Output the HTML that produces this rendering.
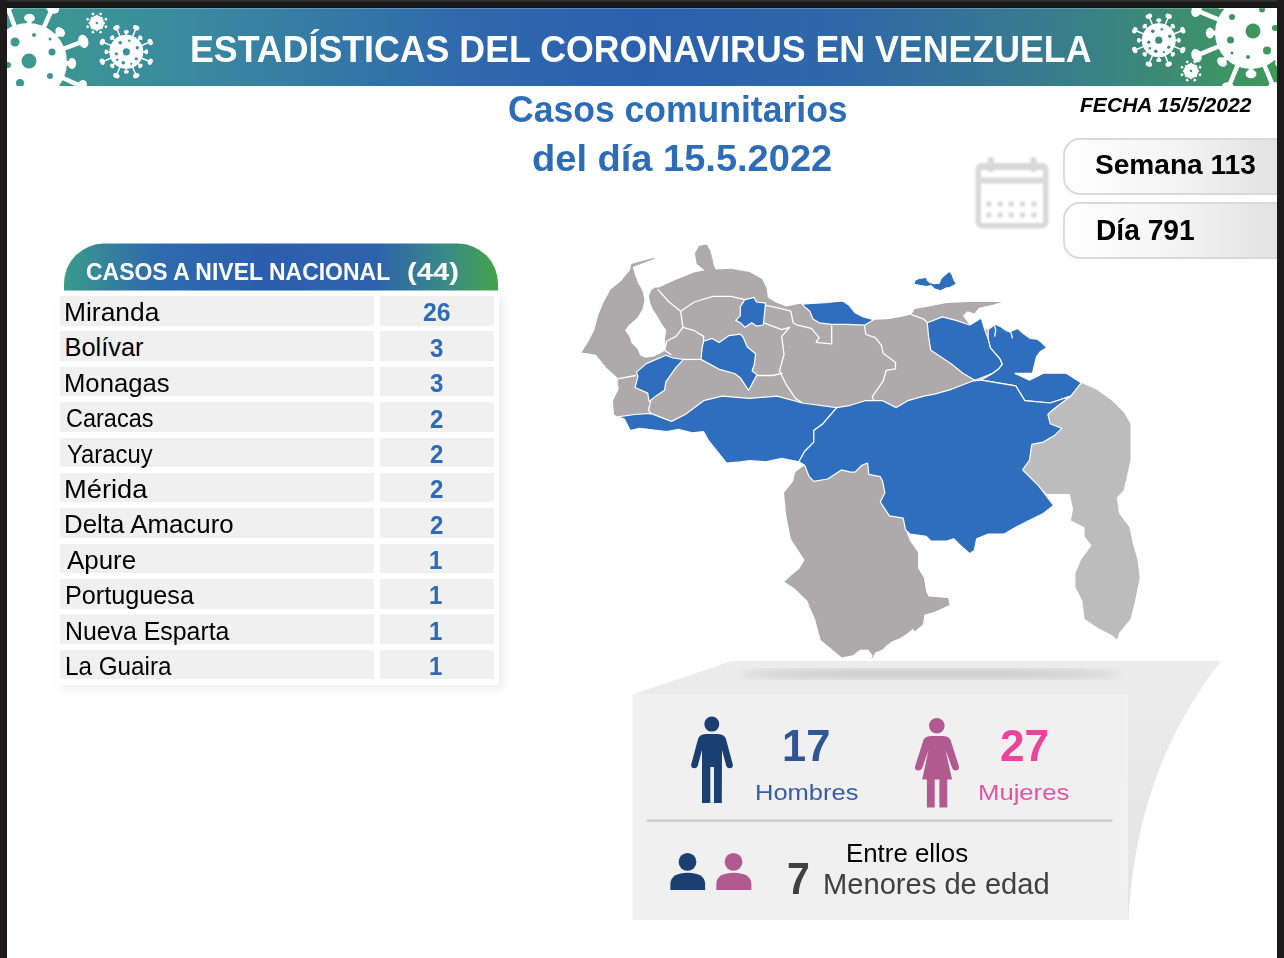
<!DOCTYPE html>
<html><head><meta charset="utf-8">
<style>
html,body{margin:0;padding:0;}
body{width:1284px;height:958px;position:relative;overflow:hidden;background:#fff;font-family:"Liberation Sans",sans-serif;}
.abs{position:absolute;}
.t{position:absolute;white-space:nowrap;line-height:1;transform-origin:0 0;}
.rw{position:absolute;left:60px;width:435px;height:29.5px;}
.rw .c1{position:absolute;left:0;top:0;width:314px;height:29.5px;background:#f0f0f0;}
.rw .c2{position:absolute;left:320px;top:0;width:114px;height:29.5px;background:#f0f0f0;}

</style></head>
<body>

<!-- banner -->
<svg class="abs" style="left:0;top:0" width="1284" height="958" viewBox="0 0 1284 958">
<defs>
<linearGradient id="bgrad" gradientUnits="userSpaceOnUse" x1="7" y1="0" x2="1277" y2="0">
<stop offset="0" stop-color="#3e9a8e"/>
<stop offset="0.14" stop-color="#3a8a9f"/>
<stop offset="0.36" stop-color="#2f69ac"/>
<stop offset="0.5" stop-color="#2b60ae"/>
<stop offset="0.66" stop-color="#2e68a8"/>
<stop offset="0.85" stop-color="#3a8088"/>
<stop offset="1" stop-color="#40995a"/>
</linearGradient>
<linearGradient id="hgrad" gradientUnits="userSpaceOnUse" x1="64" y1="0" x2="498" y2="0">
<stop offset="0" stop-color="#3b9a8a"/>
<stop offset="0.2" stop-color="#2f6cac"/>
<stop offset="0.45" stop-color="#2b5fae"/>
<stop offset="0.72" stop-color="#2e63ab"/>
<stop offset="0.88" stop-color="#3a8a86"/>
<stop offset="1" stop-color="#45a24a"/>
</linearGradient>
<clipPath id="bclip"><rect x="7" y="8" width="1270" height="78"/></clipPath>
<linearGradient id="pill" x1="0" y1="0" x2="1" y2="0">
<stop offset="0" stop-color="#ffffff"/>
<stop offset="0.5" stop-color="#f2f2f2"/>
<stop offset="1" stop-color="#dcdcdc"/>
</linearGradient>
<filter id="blur1"><feGaussianBlur stdDeviation="0.8"/></filter>
<filter id="blur4"><feGaussianBlur stdDeviation="4"/></filter>
</defs>
<g clip-path="url(#bclip)">
<rect x="7" y="8" width="1270" height="78" fill="url(#bgrad)"/>
<circle cx="28.0" cy="62.0" r="39.0" fill="#fff"/>
<line x1="28.0" y1="62.0" x2="81.7" y2="86.5" stroke="#fff" stroke-width="4.50"/>
<ellipse cx="81.7" cy="86.5" rx="4.96" ry="6.82" fill="#fff" transform="rotate(24.5 81.7 86.5)"/>
<line x1="28.0" y1="62.0" x2="72.0" y2="63.5" stroke="#fff" stroke-width="4.50"/>
<ellipse cx="72.0" cy="63.5" rx="4.16" ry="5.46" fill="#fff" transform="rotate(2.0 72.0 63.5)"/>
<line x1="28.0" y1="62.0" x2="48.7" y2="117.3" stroke="#fff" stroke-width="4.50"/>
<ellipse cx="48.7" cy="117.3" rx="4.96" ry="6.82" fill="#fff" transform="rotate(69.5 48.7 117.3)"/>
<line x1="28.0" y1="62.0" x2="58.0" y2="94.2" stroke="#fff" stroke-width="4.50"/>
<ellipse cx="58.0" cy="94.2" rx="4.16" ry="5.46" fill="#fff" transform="rotate(47.0 58.0 94.2)"/>
<line x1="28.0" y1="62.0" x2="3.5" y2="115.7" stroke="#fff" stroke-width="4.50"/>
<ellipse cx="3.5" cy="115.7" rx="4.96" ry="6.82" fill="#fff" transform="rotate(114.5 3.5 115.7)"/>
<line x1="28.0" y1="62.0" x2="26.5" y2="106.0" stroke="#fff" stroke-width="4.50"/>
<ellipse cx="26.5" cy="106.0" rx="4.16" ry="5.46" fill="#fff" transform="rotate(92.0 26.5 106.0)"/>
<line x1="28.0" y1="62.0" x2="-27.3" y2="82.7" stroke="#fff" stroke-width="4.50"/>
<ellipse cx="-27.3" cy="82.7" rx="4.96" ry="6.82" fill="#fff" transform="rotate(159.5 -27.3 82.7)"/>
<line x1="28.0" y1="62.0" x2="-4.2" y2="92.0" stroke="#fff" stroke-width="4.50"/>
<ellipse cx="-4.2" cy="92.0" rx="4.16" ry="5.46" fill="#fff" transform="rotate(137.0 -4.2 92.0)"/>
<line x1="28.0" y1="62.0" x2="-25.7" y2="37.5" stroke="#fff" stroke-width="4.50"/>
<ellipse cx="-25.7" cy="37.5" rx="4.96" ry="6.82" fill="#fff" transform="rotate(204.5 -25.7 37.5)"/>
<line x1="28.0" y1="62.0" x2="-16.0" y2="60.5" stroke="#fff" stroke-width="4.50"/>
<ellipse cx="-16.0" cy="60.5" rx="4.16" ry="5.46" fill="#fff" transform="rotate(182.0 -16.0 60.5)"/>
<line x1="28.0" y1="62.0" x2="7.3" y2="6.7" stroke="#fff" stroke-width="4.50"/>
<ellipse cx="7.3" cy="6.7" rx="4.96" ry="6.82" fill="#fff" transform="rotate(249.5 7.3 6.7)"/>
<line x1="28.0" y1="62.0" x2="-2.0" y2="29.8" stroke="#fff" stroke-width="4.50"/>
<ellipse cx="-2.0" cy="29.8" rx="4.16" ry="5.46" fill="#fff" transform="rotate(227.0 -2.0 29.8)"/>
<line x1="28.0" y1="62.0" x2="52.5" y2="8.3" stroke="#fff" stroke-width="4.50"/>
<ellipse cx="52.5" cy="8.3" rx="4.96" ry="6.82" fill="#fff" transform="rotate(294.5 52.5 8.3)"/>
<line x1="28.0" y1="62.0" x2="29.5" y2="18.0" stroke="#fff" stroke-width="4.50"/>
<ellipse cx="29.5" cy="18.0" rx="4.16" ry="5.46" fill="#fff" transform="rotate(272.0 29.5 18.0)"/>
<line x1="28.0" y1="62.0" x2="83.3" y2="41.3" stroke="#fff" stroke-width="4.50"/>
<ellipse cx="83.3" cy="41.3" rx="4.96" ry="6.82" fill="#fff" transform="rotate(339.5 83.3 41.3)"/>
<line x1="28.0" y1="62.0" x2="60.2" y2="32.0" stroke="#fff" stroke-width="4.50"/>
<ellipse cx="60.2" cy="32.0" rx="4.16" ry="5.46" fill="#fff" transform="rotate(317.0 60.2 32.0)"/>
<circle cx="29.0" cy="61.0" r="7.5" fill="url(#bgrad)"/>
<circle cx="15.0" cy="42.0" r="4.5" fill="url(#bgrad)"/>
<circle cx="34.0" cy="35.0" r="2.0" fill="url(#bgrad)"/>
<circle cx="50.0" cy="39.0" r="1.5" fill="url(#bgrad)"/>
<circle cx="52.0" cy="52.0" r="3.5" fill="url(#bgrad)"/>
<circle cx="50.0" cy="76.0" r="3.0" fill="url(#bgrad)"/>
<circle cx="20.0" cy="83.0" r="4.0" fill="url(#bgrad)"/>
<circle cx="8.0" cy="65.0" r="3.0" fill="url(#bgrad)"/>
<circle cx="126.3" cy="51.8" r="17.0" fill="#fff"/>
<line x1="126.3" y1="51.8" x2="150.3" y2="61.7" stroke="#fff" stroke-width="1.50"/>
<ellipse cx="150.3" cy="61.7" rx="2.40" ry="3.30" fill="#fff" transform="rotate(22.5 150.3 61.7)"/>
<line x1="126.3" y1="51.8" x2="146.3" y2="51.8" stroke="#fff" stroke-width="1.50"/>
<ellipse cx="146.3" cy="51.8" rx="1.92" ry="2.52" fill="#fff" transform="rotate(0.0 146.3 51.8)"/>
<line x1="126.3" y1="51.8" x2="136.2" y2="75.8" stroke="#fff" stroke-width="1.50"/>
<ellipse cx="136.2" cy="75.8" rx="2.40" ry="3.30" fill="#fff" transform="rotate(67.5 136.2 75.8)"/>
<line x1="126.3" y1="51.8" x2="140.4" y2="65.9" stroke="#fff" stroke-width="1.50"/>
<ellipse cx="140.4" cy="65.9" rx="1.92" ry="2.52" fill="#fff" transform="rotate(45.0 140.4 65.9)"/>
<line x1="126.3" y1="51.8" x2="116.4" y2="75.8" stroke="#fff" stroke-width="1.50"/>
<ellipse cx="116.4" cy="75.8" rx="2.40" ry="3.30" fill="#fff" transform="rotate(112.5 116.4 75.8)"/>
<line x1="126.3" y1="51.8" x2="126.3" y2="71.8" stroke="#fff" stroke-width="1.50"/>
<ellipse cx="126.3" cy="71.8" rx="1.92" ry="2.52" fill="#fff" transform="rotate(90.0 126.3 71.8)"/>
<line x1="126.3" y1="51.8" x2="102.3" y2="61.7" stroke="#fff" stroke-width="1.50"/>
<ellipse cx="102.3" cy="61.7" rx="2.40" ry="3.30" fill="#fff" transform="rotate(157.5 102.3 61.7)"/>
<line x1="126.3" y1="51.8" x2="112.2" y2="65.9" stroke="#fff" stroke-width="1.50"/>
<ellipse cx="112.2" cy="65.9" rx="1.92" ry="2.52" fill="#fff" transform="rotate(135.0 112.2 65.9)"/>
<line x1="126.3" y1="51.8" x2="102.3" y2="41.9" stroke="#fff" stroke-width="1.50"/>
<ellipse cx="102.3" cy="41.9" rx="2.40" ry="3.30" fill="#fff" transform="rotate(202.5 102.3 41.9)"/>
<line x1="126.3" y1="51.8" x2="106.3" y2="51.8" stroke="#fff" stroke-width="1.50"/>
<ellipse cx="106.3" cy="51.8" rx="1.92" ry="2.52" fill="#fff" transform="rotate(180.0 106.3 51.8)"/>
<line x1="126.3" y1="51.8" x2="116.4" y2="27.8" stroke="#fff" stroke-width="1.50"/>
<ellipse cx="116.4" cy="27.8" rx="2.40" ry="3.30" fill="#fff" transform="rotate(247.5 116.4 27.8)"/>
<line x1="126.3" y1="51.8" x2="112.2" y2="37.7" stroke="#fff" stroke-width="1.50"/>
<ellipse cx="112.2" cy="37.7" rx="1.92" ry="2.52" fill="#fff" transform="rotate(225.0 112.2 37.7)"/>
<line x1="126.3" y1="51.8" x2="136.2" y2="27.8" stroke="#fff" stroke-width="1.50"/>
<ellipse cx="136.2" cy="27.8" rx="2.40" ry="3.30" fill="#fff" transform="rotate(292.5 136.2 27.8)"/>
<line x1="126.3" y1="51.8" x2="126.3" y2="31.8" stroke="#fff" stroke-width="1.50"/>
<ellipse cx="126.3" cy="31.8" rx="1.92" ry="2.52" fill="#fff" transform="rotate(270.0 126.3 31.8)"/>
<line x1="126.3" y1="51.8" x2="150.3" y2="41.9" stroke="#fff" stroke-width="1.50"/>
<ellipse cx="150.3" cy="41.9" rx="2.40" ry="3.30" fill="#fff" transform="rotate(337.5 150.3 41.9)"/>
<line x1="126.3" y1="51.8" x2="140.4" y2="37.7" stroke="#fff" stroke-width="1.50"/>
<ellipse cx="140.4" cy="37.7" rx="1.92" ry="2.52" fill="#fff" transform="rotate(315.0 140.4 37.7)"/>
<circle cx="126.3" cy="51.8" r="3.6" fill="url(#bgrad)"/>
<circle cx="120.3" cy="42.8" r="1.8" fill="url(#bgrad)"/>
<circle cx="137.3" cy="47.8" r="1.7" fill="url(#bgrad)"/>
<circle cx="136.3" cy="58.8" r="1.6" fill="url(#bgrad)"/>
<circle cx="123.3" cy="62.8" r="1.8" fill="url(#bgrad)"/>
<circle cx="116.3" cy="53.8" r="1.6" fill="url(#bgrad)"/>
<circle cx="129.3" cy="40.8" r="1.2" fill="url(#bgrad)"/>
<circle cx="117.3" cy="59.8" r="1.2" fill="url(#bgrad)"/>
<circle cx="131.3" cy="63.8" r="1.1" fill="url(#bgrad)"/>
<circle cx="96.8" cy="23.0" r="7.2" fill="#fff"/>
<line x1="96.8" y1="23.0" x2="106.0" y2="26.8" stroke="#fff" stroke-width="0.60"/>
<ellipse cx="106.0" cy="26.8" rx="1.12" ry="1.54" fill="#fff" transform="rotate(22.5 106.0 26.8)"/>
<line x1="96.8" y1="23.0" x2="104.0" y2="23.0" stroke="#fff" stroke-width="0.60"/>
<ellipse cx="104.0" cy="23.0" rx="0.96" ry="1.26" fill="#fff" transform="rotate(0.0 104.0 23.0)"/>
<line x1="96.8" y1="23.0" x2="100.6" y2="32.2" stroke="#fff" stroke-width="0.60"/>
<ellipse cx="100.6" cy="32.2" rx="1.12" ry="1.54" fill="#fff" transform="rotate(67.5 100.6 32.2)"/>
<line x1="96.8" y1="23.0" x2="101.8" y2="28.1" stroke="#fff" stroke-width="0.60"/>
<ellipse cx="101.8" cy="28.1" rx="0.96" ry="1.26" fill="#fff" transform="rotate(45.0 101.8 28.1)"/>
<line x1="96.8" y1="23.0" x2="92.9" y2="32.2" stroke="#fff" stroke-width="0.60"/>
<ellipse cx="92.9" cy="32.2" rx="1.12" ry="1.54" fill="#fff" transform="rotate(112.5 92.9 32.2)"/>
<line x1="96.8" y1="23.0" x2="96.8" y2="30.2" stroke="#fff" stroke-width="0.60"/>
<ellipse cx="96.8" cy="30.2" rx="0.96" ry="1.26" fill="#fff" transform="rotate(90.0 96.8 30.2)"/>
<line x1="96.8" y1="23.0" x2="87.5" y2="26.8" stroke="#fff" stroke-width="0.60"/>
<ellipse cx="87.5" cy="26.8" rx="1.12" ry="1.54" fill="#fff" transform="rotate(157.5 87.5 26.8)"/>
<line x1="96.8" y1="23.0" x2="91.7" y2="28.1" stroke="#fff" stroke-width="0.60"/>
<ellipse cx="91.7" cy="28.1" rx="0.96" ry="1.26" fill="#fff" transform="rotate(135.0 91.7 28.1)"/>
<line x1="96.8" y1="23.0" x2="87.5" y2="19.2" stroke="#fff" stroke-width="0.60"/>
<ellipse cx="87.5" cy="19.2" rx="1.12" ry="1.54" fill="#fff" transform="rotate(202.5 87.5 19.2)"/>
<line x1="96.8" y1="23.0" x2="89.5" y2="23.0" stroke="#fff" stroke-width="0.60"/>
<ellipse cx="89.5" cy="23.0" rx="0.96" ry="1.26" fill="#fff" transform="rotate(180.0 89.5 23.0)"/>
<line x1="96.8" y1="23.0" x2="92.9" y2="13.8" stroke="#fff" stroke-width="0.60"/>
<ellipse cx="92.9" cy="13.8" rx="1.12" ry="1.54" fill="#fff" transform="rotate(247.5 92.9 13.8)"/>
<line x1="96.8" y1="23.0" x2="91.7" y2="17.9" stroke="#fff" stroke-width="0.60"/>
<ellipse cx="91.7" cy="17.9" rx="0.96" ry="1.26" fill="#fff" transform="rotate(225.0 91.7 17.9)"/>
<line x1="96.8" y1="23.0" x2="100.6" y2="13.8" stroke="#fff" stroke-width="0.60"/>
<ellipse cx="100.6" cy="13.8" rx="1.12" ry="1.54" fill="#fff" transform="rotate(292.5 100.6 13.8)"/>
<line x1="96.8" y1="23.0" x2="96.8" y2="15.8" stroke="#fff" stroke-width="0.60"/>
<ellipse cx="96.8" cy="15.8" rx="0.96" ry="1.26" fill="#fff" transform="rotate(270.0 96.8 15.8)"/>
<line x1="96.8" y1="23.0" x2="106.0" y2="19.2" stroke="#fff" stroke-width="0.60"/>
<ellipse cx="106.0" cy="19.2" rx="1.12" ry="1.54" fill="#fff" transform="rotate(337.5 106.0 19.2)"/>
<line x1="96.8" y1="23.0" x2="101.8" y2="17.9" stroke="#fff" stroke-width="0.60"/>
<ellipse cx="101.8" cy="17.9" rx="0.96" ry="1.26" fill="#fff" transform="rotate(315.0 101.8 17.9)"/>
<circle cx="96.8" cy="23.0" r="1.2" fill="url(#bgrad)"/>
<circle cx="1158.8" cy="40.2" r="17.0" fill="#fff"/>
<line x1="1158.8" y1="40.2" x2="1182.8" y2="50.1" stroke="#fff" stroke-width="1.50"/>
<ellipse cx="1182.8" cy="50.1" rx="2.40" ry="3.30" fill="#fff" transform="rotate(22.5 1182.8 50.1)"/>
<line x1="1158.8" y1="40.2" x2="1178.8" y2="40.2" stroke="#fff" stroke-width="1.50"/>
<ellipse cx="1178.8" cy="40.2" rx="1.92" ry="2.52" fill="#fff" transform="rotate(0.0 1178.8 40.2)"/>
<line x1="1158.8" y1="40.2" x2="1168.7" y2="64.2" stroke="#fff" stroke-width="1.50"/>
<ellipse cx="1168.7" cy="64.2" rx="2.40" ry="3.30" fill="#fff" transform="rotate(67.5 1168.7 64.2)"/>
<line x1="1158.8" y1="40.2" x2="1172.9" y2="54.3" stroke="#fff" stroke-width="1.50"/>
<ellipse cx="1172.9" cy="54.3" rx="1.92" ry="2.52" fill="#fff" transform="rotate(45.0 1172.9 54.3)"/>
<line x1="1158.8" y1="40.2" x2="1148.9" y2="64.2" stroke="#fff" stroke-width="1.50"/>
<ellipse cx="1148.9" cy="64.2" rx="2.40" ry="3.30" fill="#fff" transform="rotate(112.5 1148.9 64.2)"/>
<line x1="1158.8" y1="40.2" x2="1158.8" y2="60.2" stroke="#fff" stroke-width="1.50"/>
<ellipse cx="1158.8" cy="60.2" rx="1.92" ry="2.52" fill="#fff" transform="rotate(90.0 1158.8 60.2)"/>
<line x1="1158.8" y1="40.2" x2="1134.8" y2="50.1" stroke="#fff" stroke-width="1.50"/>
<ellipse cx="1134.8" cy="50.1" rx="2.40" ry="3.30" fill="#fff" transform="rotate(157.5 1134.8 50.1)"/>
<line x1="1158.8" y1="40.2" x2="1144.7" y2="54.3" stroke="#fff" stroke-width="1.50"/>
<ellipse cx="1144.7" cy="54.3" rx="1.92" ry="2.52" fill="#fff" transform="rotate(135.0 1144.7 54.3)"/>
<line x1="1158.8" y1="40.2" x2="1134.8" y2="30.3" stroke="#fff" stroke-width="1.50"/>
<ellipse cx="1134.8" cy="30.3" rx="2.40" ry="3.30" fill="#fff" transform="rotate(202.5 1134.8 30.3)"/>
<line x1="1158.8" y1="40.2" x2="1138.8" y2="40.2" stroke="#fff" stroke-width="1.50"/>
<ellipse cx="1138.8" cy="40.2" rx="1.92" ry="2.52" fill="#fff" transform="rotate(180.0 1138.8 40.2)"/>
<line x1="1158.8" y1="40.2" x2="1148.9" y2="16.2" stroke="#fff" stroke-width="1.50"/>
<ellipse cx="1148.9" cy="16.2" rx="2.40" ry="3.30" fill="#fff" transform="rotate(247.5 1148.9 16.2)"/>
<line x1="1158.8" y1="40.2" x2="1144.7" y2="26.1" stroke="#fff" stroke-width="1.50"/>
<ellipse cx="1144.7" cy="26.1" rx="1.92" ry="2.52" fill="#fff" transform="rotate(225.0 1144.7 26.1)"/>
<line x1="1158.8" y1="40.2" x2="1168.7" y2="16.2" stroke="#fff" stroke-width="1.50"/>
<ellipse cx="1168.7" cy="16.2" rx="2.40" ry="3.30" fill="#fff" transform="rotate(292.5 1168.7 16.2)"/>
<line x1="1158.8" y1="40.2" x2="1158.8" y2="20.2" stroke="#fff" stroke-width="1.50"/>
<ellipse cx="1158.8" cy="20.2" rx="1.92" ry="2.52" fill="#fff" transform="rotate(270.0 1158.8 20.2)"/>
<line x1="1158.8" y1="40.2" x2="1182.8" y2="30.3" stroke="#fff" stroke-width="1.50"/>
<ellipse cx="1182.8" cy="30.3" rx="2.40" ry="3.30" fill="#fff" transform="rotate(337.5 1182.8 30.3)"/>
<line x1="1158.8" y1="40.2" x2="1172.9" y2="26.1" stroke="#fff" stroke-width="1.50"/>
<ellipse cx="1172.9" cy="26.1" rx="1.92" ry="2.52" fill="#fff" transform="rotate(315.0 1172.9 26.1)"/>
<circle cx="1158.8" cy="40.2" r="3.6" fill="url(#bgrad)"/>
<circle cx="1152.8" cy="31.2" r="1.8" fill="url(#bgrad)"/>
<circle cx="1169.8" cy="36.2" r="1.7" fill="url(#bgrad)"/>
<circle cx="1168.8" cy="47.2" r="1.6" fill="url(#bgrad)"/>
<circle cx="1155.8" cy="51.2" r="1.8" fill="url(#bgrad)"/>
<circle cx="1148.8" cy="42.2" r="1.6" fill="url(#bgrad)"/>
<circle cx="1161.8" cy="29.2" r="1.2" fill="url(#bgrad)"/>
<circle cx="1149.8" cy="48.2" r="1.2" fill="url(#bgrad)"/>
<circle cx="1163.8" cy="52.2" r="1.1" fill="url(#bgrad)"/>
<circle cx="1191.0" cy="71.0" r="7.2" fill="#fff"/>
<line x1="1191.0" y1="71.0" x2="1200.2" y2="74.8" stroke="#fff" stroke-width="0.60"/>
<ellipse cx="1200.2" cy="74.8" rx="1.12" ry="1.54" fill="#fff" transform="rotate(22.5 1200.2 74.8)"/>
<line x1="1191.0" y1="71.0" x2="1198.2" y2="71.0" stroke="#fff" stroke-width="0.60"/>
<ellipse cx="1198.2" cy="71.0" rx="0.96" ry="1.26" fill="#fff" transform="rotate(0.0 1198.2 71.0)"/>
<line x1="1191.0" y1="71.0" x2="1194.8" y2="80.2" stroke="#fff" stroke-width="0.60"/>
<ellipse cx="1194.8" cy="80.2" rx="1.12" ry="1.54" fill="#fff" transform="rotate(67.5 1194.8 80.2)"/>
<line x1="1191.0" y1="71.0" x2="1196.1" y2="76.1" stroke="#fff" stroke-width="0.60"/>
<ellipse cx="1196.1" cy="76.1" rx="0.96" ry="1.26" fill="#fff" transform="rotate(45.0 1196.1 76.1)"/>
<line x1="1191.0" y1="71.0" x2="1187.2" y2="80.2" stroke="#fff" stroke-width="0.60"/>
<ellipse cx="1187.2" cy="80.2" rx="1.12" ry="1.54" fill="#fff" transform="rotate(112.5 1187.2 80.2)"/>
<line x1="1191.0" y1="71.0" x2="1191.0" y2="78.2" stroke="#fff" stroke-width="0.60"/>
<ellipse cx="1191.0" cy="78.2" rx="0.96" ry="1.26" fill="#fff" transform="rotate(90.0 1191.0 78.2)"/>
<line x1="1191.0" y1="71.0" x2="1181.8" y2="74.8" stroke="#fff" stroke-width="0.60"/>
<ellipse cx="1181.8" cy="74.8" rx="1.12" ry="1.54" fill="#fff" transform="rotate(157.5 1181.8 74.8)"/>
<line x1="1191.0" y1="71.0" x2="1185.9" y2="76.1" stroke="#fff" stroke-width="0.60"/>
<ellipse cx="1185.9" cy="76.1" rx="0.96" ry="1.26" fill="#fff" transform="rotate(135.0 1185.9 76.1)"/>
<line x1="1191.0" y1="71.0" x2="1181.8" y2="67.2" stroke="#fff" stroke-width="0.60"/>
<ellipse cx="1181.8" cy="67.2" rx="1.12" ry="1.54" fill="#fff" transform="rotate(202.5 1181.8 67.2)"/>
<line x1="1191.0" y1="71.0" x2="1183.8" y2="71.0" stroke="#fff" stroke-width="0.60"/>
<ellipse cx="1183.8" cy="71.0" rx="0.96" ry="1.26" fill="#fff" transform="rotate(180.0 1183.8 71.0)"/>
<line x1="1191.0" y1="71.0" x2="1187.2" y2="61.8" stroke="#fff" stroke-width="0.60"/>
<ellipse cx="1187.2" cy="61.8" rx="1.12" ry="1.54" fill="#fff" transform="rotate(247.5 1187.2 61.8)"/>
<line x1="1191.0" y1="71.0" x2="1185.9" y2="65.9" stroke="#fff" stroke-width="0.60"/>
<ellipse cx="1185.9" cy="65.9" rx="0.96" ry="1.26" fill="#fff" transform="rotate(225.0 1185.9 65.9)"/>
<line x1="1191.0" y1="71.0" x2="1194.8" y2="61.8" stroke="#fff" stroke-width="0.60"/>
<ellipse cx="1194.8" cy="61.8" rx="1.12" ry="1.54" fill="#fff" transform="rotate(292.5 1194.8 61.8)"/>
<line x1="1191.0" y1="71.0" x2="1191.0" y2="63.8" stroke="#fff" stroke-width="0.60"/>
<ellipse cx="1191.0" cy="63.8" rx="0.96" ry="1.26" fill="#fff" transform="rotate(270.0 1191.0 63.8)"/>
<line x1="1191.0" y1="71.0" x2="1200.2" y2="67.2" stroke="#fff" stroke-width="0.60"/>
<ellipse cx="1200.2" cy="67.2" rx="1.12" ry="1.54" fill="#fff" transform="rotate(337.5 1200.2 67.2)"/>
<line x1="1191.0" y1="71.0" x2="1196.1" y2="65.9" stroke="#fff" stroke-width="0.60"/>
<ellipse cx="1196.1" cy="65.9" rx="0.96" ry="1.26" fill="#fff" transform="rotate(315.0 1196.1 65.9)"/>
<circle cx="1191.0" cy="71.0" r="1.2" fill="url(#bgrad)"/>
<circle cx="1251.0" cy="33.0" r="36.0" fill="#fff"/>
<line x1="1251.0" y1="33.0" x2="1305.5" y2="55.6" stroke="#fff" stroke-width="4.50"/>
<ellipse cx="1305.5" cy="55.6" rx="4.96" ry="6.82" fill="#fff" transform="rotate(22.5 1305.5 55.6)"/>
<line x1="1251.0" y1="33.0" x2="1292.0" y2="33.0" stroke="#fff" stroke-width="4.50"/>
<ellipse cx="1292.0" cy="33.0" rx="4.16" ry="5.46" fill="#fff" transform="rotate(0.0 1292.0 33.0)"/>
<line x1="1251.0" y1="33.0" x2="1273.6" y2="87.5" stroke="#fff" stroke-width="4.50"/>
<ellipse cx="1273.6" cy="87.5" rx="4.96" ry="6.82" fill="#fff" transform="rotate(67.5 1273.6 87.5)"/>
<line x1="1251.0" y1="33.0" x2="1280.0" y2="62.0" stroke="#fff" stroke-width="4.50"/>
<ellipse cx="1280.0" cy="62.0" rx="4.16" ry="5.46" fill="#fff" transform="rotate(45.0 1280.0 62.0)"/>
<line x1="1251.0" y1="33.0" x2="1228.4" y2="87.5" stroke="#fff" stroke-width="4.50"/>
<ellipse cx="1228.4" cy="87.5" rx="4.96" ry="6.82" fill="#fff" transform="rotate(112.5 1228.4 87.5)"/>
<line x1="1251.0" y1="33.0" x2="1251.0" y2="74.0" stroke="#fff" stroke-width="4.50"/>
<ellipse cx="1251.0" cy="74.0" rx="4.16" ry="5.46" fill="#fff" transform="rotate(90.0 1251.0 74.0)"/>
<line x1="1251.0" y1="33.0" x2="1196.5" y2="55.6" stroke="#fff" stroke-width="4.50"/>
<ellipse cx="1196.5" cy="55.6" rx="4.96" ry="6.82" fill="#fff" transform="rotate(157.5 1196.5 55.6)"/>
<line x1="1251.0" y1="33.0" x2="1222.0" y2="62.0" stroke="#fff" stroke-width="4.50"/>
<ellipse cx="1222.0" cy="62.0" rx="4.16" ry="5.46" fill="#fff" transform="rotate(135.0 1222.0 62.0)"/>
<line x1="1251.0" y1="33.0" x2="1196.5" y2="10.4" stroke="#fff" stroke-width="4.50"/>
<ellipse cx="1196.5" cy="10.4" rx="4.96" ry="6.82" fill="#fff" transform="rotate(202.5 1196.5 10.4)"/>
<line x1="1251.0" y1="33.0" x2="1210.0" y2="33.0" stroke="#fff" stroke-width="4.50"/>
<ellipse cx="1210.0" cy="33.0" rx="4.16" ry="5.46" fill="#fff" transform="rotate(180.0 1210.0 33.0)"/>
<line x1="1251.0" y1="33.0" x2="1228.4" y2="-21.5" stroke="#fff" stroke-width="4.50"/>
<ellipse cx="1228.4" cy="-21.5" rx="4.96" ry="6.82" fill="#fff" transform="rotate(247.5 1228.4 -21.5)"/>
<line x1="1251.0" y1="33.0" x2="1222.0" y2="4.0" stroke="#fff" stroke-width="4.50"/>
<ellipse cx="1222.0" cy="4.0" rx="4.16" ry="5.46" fill="#fff" transform="rotate(225.0 1222.0 4.0)"/>
<line x1="1251.0" y1="33.0" x2="1273.6" y2="-21.5" stroke="#fff" stroke-width="4.50"/>
<ellipse cx="1273.6" cy="-21.5" rx="4.96" ry="6.82" fill="#fff" transform="rotate(292.5 1273.6 -21.5)"/>
<line x1="1251.0" y1="33.0" x2="1251.0" y2="-8.0" stroke="#fff" stroke-width="4.50"/>
<ellipse cx="1251.0" cy="-8.0" rx="4.16" ry="5.46" fill="#fff" transform="rotate(270.0 1251.0 -8.0)"/>
<line x1="1251.0" y1="33.0" x2="1305.5" y2="10.4" stroke="#fff" stroke-width="4.50"/>
<ellipse cx="1305.5" cy="10.4" rx="4.96" ry="6.82" fill="#fff" transform="rotate(337.5 1305.5 10.4)"/>
<line x1="1251.0" y1="33.0" x2="1280.0" y2="4.0" stroke="#fff" stroke-width="4.50"/>
<ellipse cx="1280.0" cy="4.0" rx="4.16" ry="5.46" fill="#fff" transform="rotate(315.0 1280.0 4.0)"/>
<circle cx="1253.0" cy="31.0" r="7.5" fill="url(#bgrad)"/>
<circle cx="1232.0" cy="17.0" r="3.0" fill="url(#bgrad)"/>
<circle cx="1230.5" cy="40.0" r="3.5" fill="url(#bgrad)"/>
<circle cx="1267.0" cy="50.6" r="4.0" fill="url(#bgrad)"/>
<circle cx="1232.0" cy="53.0" r="1.5" fill="url(#bgrad)"/>
<circle cx="1248.0" cy="57.0" r="2.0" fill="url(#bgrad)"/>
<circle cx="1275.0" cy="28.0" r="3.0" fill="url(#bgrad)"/>
<circle cx="1262.0" cy="9.4" r="3.0" fill="url(#bgrad)"/>
</g>
</svg>


<!-- calendar icon -->
<svg class="abs" style="left:0;top:0" width="1284" height="958" viewBox="0 0 1284 958">
<g filter="url(#blur1)" fill="#d8d8d8">
<path fill-rule="evenodd" d="M983,163 L1041,163 Q1048.5,163 1048.5,170.5 L1048.5,221 Q1048.5,228.5 1041,228.5 L983,228.5 Q975.5,228.5 975.5,221 L975.5,170.5 Q975.5,163 983,163 Z M981,170 L1043,170 L1043,223 L981,223 Z"/>
<rect x="981" y="177.5" width="62" height="6"/>
<rect x="987.8" y="157" width="6" height="15" rx="2"/>
<rect x="1030.5" y="157" width="6" height="15" rx="2"/>
<rect x="986.3" y="201.5" width="5" height="5"/><rect x="997.7" y="201.5" width="5" height="5"/><rect x="1008.6" y="201.5" width="5" height="5"/><rect x="1020" y="201.5" width="5" height="5"/><rect x="1031.5" y="201.5" width="5" height="5"/>
<rect x="986.3" y="212.5" width="5" height="5"/><rect x="997.7" y="212.5" width="5" height="5"/><rect x="1008.6" y="212.5" width="5" height="5"/><rect x="1020" y="212.5" width="5" height="5"/><rect x="1031.5" y="212.5" width="5" height="5"/>
</g>
</svg>

<!-- pills -->
<div class="abs" style="left:1062.5px;top:137.5px;width:240px;height:53px;border:2px solid #dadada;border-radius:17px;background:linear-gradient(90deg,#ffffff 0%,#f4f4f4 45%,#dedede 100%);"></div>
<div class="abs" style="left:1062.5px;top:201.5px;width:240px;height:53px;border:2px solid #dadada;border-radius:17px;background:linear-gradient(90deg,#ffffff 0%,#f4f4f4 45%,#dedede 100%);"></div>

<!-- table panel -->
<div class="abs" style="left:56px;top:292px;width:443px;height:392.5px;background:#fff;box-shadow:4px 4px 9px rgba(0,0,0,0.08);"></div>
<svg class="abs" style="left:0;top:0" width="1284" height="958" viewBox="0 0 1284 958">
<path d="M64,290.5 L64,283.6 A40,40 0 0 1 104,243.6 L458,243.6 A40,40 0 0 1 498,283.6 L498,290.5 Z" fill="url(#hgrad)"/>
</svg>
<div class="rw" style="top:296.0px"><div class="c1"></div><div class="c2"></div></div>
<div class="rw" style="top:331.4px"><div class="c1"></div><div class="c2"></div></div>
<div class="rw" style="top:366.8px"><div class="c1"></div><div class="c2"></div></div>
<div class="rw" style="top:402.1px"><div class="c1"></div><div class="c2"></div></div>
<div class="rw" style="top:437.5px"><div class="c1"></div><div class="c2"></div></div>
<div class="rw" style="top:472.9px"><div class="c1"></div><div class="c2"></div></div>
<div class="rw" style="top:508.3px"><div class="c1"></div><div class="c2"></div></div>
<div class="rw" style="top:543.7px"><div class="c1"></div><div class="c2"></div></div>
<div class="rw" style="top:579.0px"><div class="c1"></div><div class="c2"></div></div>
<div class="rw" style="top:614.4px"><div class="c1"></div><div class="c2"></div></div>
<div class="rw" style="top:649.8px"><div class="c1"></div><div class="c2"></div></div>

<!-- podium -->
<svg class="abs" style="left:0;top:0" width="1284" height="958" viewBox="0 0 1284 958">
<defs>
<linearGradient id="topface" x1="0" y1="0" x2="0" y2="1">
<stop offset="0" stop-color="#ececec"/><stop offset="1" stop-color="#e3e3e3"/>
</linearGradient>
</defs>
<path d="M731.5,661 L1221,661 C1175,720 1135,800 1128.4,920 L1127.5,920 L1127.5,694.5 L632.5,694.5 Z" fill="url(#topface)"/>
<ellipse cx="930" cy="674" rx="190" ry="4.5" fill="#c4c4c4" filter="url(#blur4)"/>
<rect x="632.5" y="694.5" width="495" height="225.5" fill="#f0f0f0"/>
<rect x="646.5" y="819.3" width="466" height="2.6" fill="#cfcfcf"/>
<!-- man -->
<circle cx="711.8" cy="724.1" r="7.5" fill="#1b3f70"/>
<path fill="#1b3f70" d="M697.5,741 Q698.5,734 706,734 L717.5,734 Q725.5,734 726.5,741 L732.8,764.5 Q733.3,768.3 729.6,768.3 Q726.8,768.3 726,765 L722,750 L721.8,803 L714,803 L714,767 L710.3,767 L710.3,803 L702,803 L702,750 L698,765 Q697.2,768.3 694.4,768.3 Q690.7,768.3 691.2,764.5 Z"/>
<!-- woman -->
<circle cx="936.8" cy="725.7" r="7.8" fill="#b15a90"/>
<path fill="#b15a90" d="M922.5,743 Q923.5,736 931,736 L943,736 Q950.5,736 951.5,743 L958.8,766 Q959.8,770.5 955.8,770.5 Q952.8,770.5 951.8,767 L945.5,750 L952,779.4 L947.3,779.4 L947.3,807.6 L939.4,807.6 L939.4,779.4 L934.7,779.4 L934.7,807.6 L926.9,807.6 L926.9,779.4 L922.2,779.4 L928.5,750 L922.6,767 Q921.6,770.5 918.2,770.5 Q914.2,770.5 915.2,766 Z"/>
<!-- user icons -->
<circle cx="687.5" cy="861.9" r="8.9" fill="#1b3f70"/>
<path fill="#1b3f70" d="M670.4,890 L670.4,884 C670.4,876 678,872.8 687.8,872.8 C697.5,872.8 705.1,876 705.1,884 L705.1,890 Z"/>
<circle cx="733.5" cy="861.9" r="8.9" fill="#b15a90"/>
<path fill="#b15a90" d="M716.3,890 L716.3,884 C716.3,876 724,872.8 733.8,872.8 C743.5,872.8 751.4,876 751.4,884 L751.4,890 Z"/>
</svg>


<!-- map -->
<svg class="abs" style="left:0;top:0" width="1284" height="958" viewBox="0 0 1284 958">
<path d="M1081.2,382.8 L1096.1,389.3 L1112.2,400.7 L1123.7,412.2 L1130.5,423.7 L1130.5,460.0 L1123.7,490.5 L1116.8,497.4 L1119.1,513.5 L1129.4,527.3 L1132.8,543.3 L1137.4,559.4 L1139.7,577.8 L1135.1,600.7 L1130.5,619.1 L1119.1,632.9 L1116.8,639.8 L1112.2,635.2 L1098.4,628.3 L1084.6,619.1 L1082.3,600.7 L1075.4,587.0 L1075.4,573.2 L1081.2,559.4 L1091.5,545.6 L1084.6,536.4 L1084.6,527.3 L1070.8,520.4 L1073.1,508.9 L1069.7,494.0 L1046.7,494.0 L1022.6,469.9 L1031.8,444.4 L1043.3,442.1 L1054.8,435.2 L1061.7,428.3 L1050.2,423.7 L1047.9,414.5 L1052.5,409.9 L1070.8,396.1 Z" fill="#bdbcbd"/>
<path d="M631.3,264.0 L653.9,257.8 L654.6,258.8 L632.8,266.9 L635.1,275.1 L638.8,285.1 L645.1,287.6 L658.9,287.6 L675.2,280.1 L693.9,272.5 L712.7,268.8 L713.4,262.5 L711.5,255.0 L710.2,250.0 L705.9,245.1 L710.5,252.6 L712.3,261.8 L715.5,269.4 L731.1,268.7 L749.5,272.1 L762.1,279.0 L766.7,288.2 L767.9,297.4 L774.8,302.0 L786.3,306.6 L800.0,303.8 L802.1,304.1 L811.4,303.4 L825.4,302.6 L842.6,301.0 L848.8,304.9 L855.0,312.7 L862.8,316.6 L873.7,319.7 L887.1,319.2 L900.9,316.9 L911.3,314.6 L914.7,308.9 L928.5,306.6 L946.8,303.1 L969.8,302.0 L1002.0,302.0 L992.8,304.8 L979.0,307.7 L974.4,313.5 L967.5,311.2 L962.9,315.8 L969.8,325.0 L976.7,322.7 L981.3,318.1 L984.7,329.6 L988.2,329.6 L995.1,324.3 L1000.8,326.8 L1006.8,330.9 L1010.0,331.6 L1017.6,328.4 L1023.3,333.5 L1030.0,338.3 L1037.5,339.2 L1041.7,342.6 L1046.7,347.7 L1040.1,351.8 L1036.6,356.6 L1035.0,362.6 L1033.4,369.3 L1032.5,373.4 L1015.0,373.4 L1029.5,380.1 L1043.3,373.2 L1066.3,373.2 L1081.2,382.8 L1070.8,396.1 L1052.5,409.9 L1047.9,414.5 L1050.2,423.7 L1061.7,428.3 L1054.8,435.2 L1043.3,442.1 L1031.8,444.4 L1029.5,460.0 L1022.6,469.9 L1038.7,485.9 L1053.6,505.4 L1043.3,513.5 L1029.5,520.4 L1015.7,527.3 L1004.3,534.1 L988.2,534.1 L976.7,538.7 L974.4,550.2 L969.8,553.7 L960.6,545.6 L953.7,538.7 L946.8,541.0 L930.8,541.0 L926.2,536.4 L910.1,534.1 L905.5,529.6 L910.1,541.0 L918.1,552.5 L918.1,568.6 L923.9,577.8 L926.2,591.5 L928.6,596.5 L948.2,597.9 L949.6,604.9 L934.2,611.9 L924.4,614.7 L923.0,624.5 L914.6,631.5 L913.2,628.7 L906.2,634.3 L899.2,638.5 L892.2,641.3 L886.5,645.5 L882.3,649.7 L875.3,652.5 L871.1,660.2 L872.5,655.3 L868.3,649.7 L859.9,649.7 L852.9,655.3 L841.7,657.4 L820.7,639.9 L815.0,618.9 L809.4,606.3 L807.3,600.7 L794.0,588.0 L784.2,581.7 L791.2,575.4 L799.6,568.4 L804.5,560.0 L790.8,538.7 L786.3,515.8 L784.0,492.8 L793.1,481.3 L795.4,472.1 L804.6,465.3 L798.9,461.8 L781.7,458.4 L765.6,461.8 L749.5,460.7 L740.3,461.8 L726.5,463.0 L708.2,440.0 L703.6,431.7 L692.1,432.9 L678.3,429.4 L666.8,431.7 L639.3,428.3 L630.1,430.6 L624.4,419.1 L617.5,416.8 L614.0,414.5 L612.9,400.7 L618.6,389.3 L617.5,377.8 L607.1,368.6 L595.7,354.8 L581.4,352.5 L588.8,341.0 L594.5,329.6 L598.0,315.8 L603.7,302.0 L610.6,289.4 L620.9,281.3 L630.1,269.9 Z" fill="#aeaaab"/>
<path d="M696.7,263.9 L694.9,253.8 L699.0,245.7 L707.0,244.6 L710.5,252.6 L712.3,261.8 L715.5,269.9 L705.9,271.2 Z" fill="#aeaaab"/>
<path d="M637.6,281.3 L642.6,291.3 L644.5,300.1 L642.6,308.9 L637.6,317.6 L628.8,325.2 L625.1,330.2 L630.1,337.7 L631.3,342.7 L637.6,349.0 L640.1,355.2 L645.1,357.7 L653.9,356.5 L661.4,352.7 L665.1,350.2 L665.1,337.7 L666.4,330.2 L662.6,325.2 L657.6,316.4 L652.6,308.9 L650.1,302.6 L648.9,296.3 L651.4,290.1 L655.1,287.6 L647.6,283.8 Z" fill="#fff"/>
<path d="M617.5,416.8 L634.7,414.5 L650.8,413.4 L671.4,421.4 L685.2,414.5 L703.6,400.7 L722.0,396.1 L749.5,398.4 L777.1,396.1 L802.3,403.0 L836.8,407.6 L823.0,423.7 L813.8,430.6 L813.8,442.1 L804.6,451.5 L798.9,461.8 L781.7,458.4 L765.6,461.8 L749.5,460.7 L740.3,461.8 L726.5,463.0 L708.2,440.0 L703.6,431.7 L692.1,432.9 L678.3,429.4 L666.8,431.7 L639.3,428.3 L630.1,430.6 L624.4,419.1 Z" fill="#2f6ebd" stroke="#fff" stroke-width="1.2" stroke-linejoin="round"/>
<path d="M636.5,372.1 L646.3,363.6 L665.9,355.2 L672.9,358.0 L683.4,359.4 L675.7,367.9 L665.9,381.9 L664.5,390.3 L656.1,395.9 L649.1,401.5 L647.7,393.1 L635.0,387.5 L637.9,376.3 Z" fill="#2f6ebd" stroke="#fff" stroke-width="1.2" stroke-linejoin="round"/>
<path d="M702.3,346.8 L703.7,341.2 L712.2,338.4 L719.2,342.6 L729.0,335.6 L740.2,334.2 L743.0,337.0 L747.2,346.8 L755.6,353.8 L754.2,365.0 L752.1,370.7 L757.0,374.9 L748.6,390.3 L740.2,377.7 L734.6,373.5 L719.2,369.3 L700.9,359.4 Z" fill="#2f6ebd" stroke="#fff" stroke-width="1.2" stroke-linejoin="round"/>
<path d="M744.9,299.7 L754.1,297.4 L756.4,302.0 L765.6,303.1 L763.3,325.0 L756.4,326.1 L751.8,322.7 L744.9,327.3 L740.3,322.7 L735.7,320.4 L740.3,315.8 L740.3,306.6 Z" fill="#2f6ebd" stroke="#fff" stroke-width="1.2" stroke-linejoin="round"/>
<path d="M802.1,304.1 L811.4,303.4 L825.4,302.6 L842.6,301.0 L848.8,304.9 L855.0,312.7 L862.8,316.6 L873.7,319.7 L864.4,325.2 L847.2,324.4 L831.7,324.4 L819.2,322.8 L813.0,318.9 L809.8,311.2 L805.2,307.3 Z" fill="#2f6ebd" stroke="#fff" stroke-width="1.2" stroke-linejoin="round"/>
<path d="M927.3,322.7 L942.3,316.9 L956.0,320.4 L969.8,325.0 L981.3,318.1 L984.7,329.6 L988.2,338.7 L990.5,347.9 L999.7,358.3 L1002.4,364.2 L998.3,369.3 L992.5,373.4 L979.0,378.9 L974.4,380.1 L962.9,373.2 L951.4,364.0 L937.7,354.8 L930.8,350.2 L928.5,336.4 Z" fill="#2f6ebd" stroke="#fff" stroke-width="1.2" stroke-linejoin="round"/>
<path d="M988.2,329.6 L995.1,324.3 L1000.8,326.8 L1006.8,330.9 L1010.0,331.6 L1017.6,328.4 L1023.3,333.5 L1030.0,338.3 L1037.5,339.2 L1041.7,342.6 L1046.7,347.7 L1040.1,351.8 L1036.6,356.6 L1035.0,362.6 L1033.4,369.3 L1032.5,373.4 L1015.0,373.4 L1029.5,380.1 L1043.3,373.2 L1066.3,373.2 L1081.2,382.8 L1070.8,396.1 L1050.2,403.0 L1024.9,400.7 L1015.7,385.8 L981.3,380.1 L992.5,373.4 L998.3,369.3 L1002.4,364.2 L999.7,358.3 L990.5,347.9 L988.2,338.7 Z" fill="#2f6ebd" stroke="#fff" stroke-width="1.2" stroke-linejoin="round"/>
<path d="M836.8,407.6 L850.5,405.3 L865.0,400.7 L868.8,400.7 L882.6,400.7 L896.3,407.6 L907.8,400.7 L923.9,396.1 L935.4,393.8 L951.4,389.3 L972.1,381.2 L981.3,380.1 L1015.7,385.8 L1024.9,400.7 L1050.2,403.0 L1070.8,396.1 L1052.5,409.9 L1047.9,414.5 L1050.2,423.7 L1061.7,428.3 L1054.8,435.2 L1043.3,442.1 L1031.8,444.4 L1029.5,460.0 L1022.6,469.9 L1038.7,485.9 L1053.6,505.4 L1043.3,513.5 L1029.5,520.4 L1015.7,527.3 L1004.3,534.1 L988.2,534.1 L976.7,538.7 L974.4,550.2 L969.8,553.7 L960.6,545.6 L953.7,538.7 L946.8,541.0 L930.8,541.0 L926.2,536.4 L910.1,534.1 L905.5,529.6 L903.2,518.1 L889.4,515.8 L880.3,502.0 L884.9,492.8 L882.6,481.3 L880.3,476.7 L868.8,474.4 L867.6,463.0 L861.9,465.3 L855.0,472.1 L850.5,472.1 L841.4,469.9 L827.6,479.0 L813.8,481.3 L809.2,476.7 L804.6,465.3 L798.9,461.8 L804.6,451.5 L813.8,442.1 L813.8,430.6 L823.0,423.7 Z" fill="#2f6ebd" stroke="#fff" stroke-width="1.2" stroke-linejoin="round"/>
<path d="M914.3,283.7 L915.7,280.4 L919.0,279.0 L926.0,278.1 L927.0,280.9 L930.2,283.2 L934.0,284.2 L939.6,283.7 L941.4,279.0 L944.3,276.2 L949.4,272.0 L951.7,275.3 L953.6,280.4 L955.7,283.2 L953.6,285.1 L948.5,287.4 L947.1,287.0 L940.5,290.2 L934.9,288.4 L931.2,285.1 L926.5,286.0 L920.4,285.1 Z" fill="#2f6ebd"/>
<path d="M657.7,289.4 L669.1,302.0 L680.6,311.2 L682.9,327.3 L694.4,330.7 L703.6,336.4 L703.6,341.0" fill="none" stroke="#fff" stroke-width="1.3" stroke-linejoin="round"/>
<path d="M680.6,311.2 L694.4,302.0 L712.8,296.3 L731.1,296.3 L744.9,299.7" fill="none" stroke="#fff" stroke-width="1.3" stroke-linejoin="round"/>
<path d="M682.9,327.3 L676.0,336.4 L666.8,341.0 L664.6,350.2 L671.4,354.8" fill="none" stroke="#fff" stroke-width="1.3" stroke-linejoin="round"/>
<path d="M765.6,305.4 L777.1,307.7 L790.8,311.2 L793.1,322.7 L797.3,325.2 L797.4,325.2 L811.4,328.3 L819.2,337.6 L816.1,342.3 L831.7,343.9 L831.7,325.2" fill="none" stroke="#fff" stroke-width="1.3" stroke-linejoin="round"/>
<path d="M763.3,322.7 L781.7,329.6 L789.7,327.3 L781.7,336.4 L784.0,354.8 L779.4,370.9 L786.3,384.7 L795.4,398.4 L802.3,403.0" fill="none" stroke="#fff" stroke-width="1.3" stroke-linejoin="round"/>
<path d="M756.4,375.5 L772.5,375.5 L782.8,373.2" fill="none" stroke="#fff" stroke-width="1.3" stroke-linejoin="round"/>
<path d="M683.4,359.4 L700.9,359.4" fill="none" stroke="#fff" stroke-width="1.3" stroke-linejoin="round"/>
<path d="M650.8,400.7 L648.5,409.9 L650.8,414.5" fill="none" stroke="#fff" stroke-width="1.3" stroke-linejoin="round"/>
<path d="M617.5,378.9 L635.8,375.5" fill="none" stroke="#fff" stroke-width="1.3" stroke-linejoin="round"/>
<path d="M864.4,325.2 L865.9,334.5 L875.3,337.6 L881.5,345.4 L883.1,353.2 L895.5,362.6 L895.5,368.8 L886.2,370.3 L883.1,381.2 L872.1,396.8 L873.7,399.9" fill="none" stroke="#fff" stroke-width="1.3" stroke-linejoin="round"/>
<path d="M911.3,314.6 L923.9,319.2 L927.3,322.7" fill="none" stroke="#fff" stroke-width="1.3" stroke-linejoin="round"/>
<path d="M994.2,325.0 L995.8,330.1 L994.6,336.7" fill="none" stroke="#fff" stroke-width="1.3" stroke-linejoin="round"/>
<path d="M1009.2,331.3 L1011.3,333.4 L1012.5,338.4" fill="none" stroke="#fff" stroke-width="1.3" stroke-linejoin="round"/>
<path d="M1045.1,352.6 L1040.1,355.1 L1036.7,360.9" fill="none" stroke="#fff" stroke-width="1.3" stroke-linejoin="round"/>
<path d="M1043.4,363.4 L1038.4,365.9 L1035.1,371.8" fill="none" stroke="#fff" stroke-width="1.3" stroke-linejoin="round"/>
</svg>

<div class="t" style="left:190.48px;top:30.50px;font-size:37.20px;font-weight:700;color:#fff;transform:scaleX(0.9610);">ESTADÍSTICAS DEL CORONAVIRUS EN VENEZUELA</div>
<div class="t" style="left:508.24px;top:90.50px;font-size:37.20px;font-weight:700;color:#2e6db6;transform:scaleX(0.9554);">Casos comunitarios</div>
<div class="t" style="left:532.38px;top:140.20px;font-size:37.20px;font-weight:700;color:#2e6db6;transform:scaleX(1.0227);">del día 15.5.2022</div>
<div class="t" style="left:1080.00px;top:93.92px;font-size:21.00px;font-weight:700;font-style:italic;color:#000;transform:scaleX(1.0034);">FECHA 15/5/2022</div>
<div class="t" style="left:1095.20px;top:149.67px;font-size:28.50px;font-weight:700;color:#000;transform:scaleX(0.9855);">Semana 113</div>
<div class="t" style="left:1096.03px;top:216.15px;font-size:29.00px;font-weight:700;color:#000;transform:scaleX(0.9707);">Día 791</div>
<div class="t" style="left:85.77px;top:259.79px;font-size:24.70px;font-weight:700;color:#fff;transform:scaleX(0.9305);">CASOS A NIVEL NACIONAL</div>
<div class="t" style="left:406.82px;top:259.79px;font-size:24.70px;font-weight:700;color:#fff;transform:scaleX(1.1828);">(44)</div>
<div class="t" style="left:782.25px;top:723.82px;font-size:44.50px;font-weight:700;color:#2f5597;transform:scaleX(0.9749);">17</div>
<div class="t" style="left:755.21px;top:782.70px;font-size:21.50px;color:#3a5ca0;transform:scaleX(1.1864);">Hombres</div>
<div class="t" style="left:999.61px;top:723.52px;font-size:44.50px;font-weight:700;color:#e8449a;transform:scaleX(0.9925);">27</div>
<div class="t" style="left:978.23px;top:782.37px;font-size:22.00px;color:#e253a5;transform:scaleX(1.1664);">Mujeres</div>
<div class="t" style="left:787.09px;top:855.80px;font-size:45.00px;font-weight:700;color:#404040;transform:scaleX(0.9130);">7</div>
<div class="t" style="left:846.37px;top:841.21px;font-size:25.50px;color:#000;transform:scaleX(1.0134);">Entre ellos</div>
<div class="t" style="left:823.26px;top:868.80px;font-size:30.00px;color:#404040;transform:scaleX(0.9708);">Menores de edad</div>
<div class="t" style="left:64.42px;top:300.09px;font-size:25.40px;color:#000;transform:scaleX(1.0396);">Miranda</div>
<div class="t" style="left:423.35px;top:300.43px;font-size:25.00px;font-weight:700;color:#2e6bb5;transform:scaleX(0.9924);">26</div>
<div class="t" style="left:64.50px;top:335.47px;font-size:25.40px;color:#000;">Bolívar</div>
<div class="t" style="left:430.45px;top:335.81px;font-size:25.00px;font-weight:700;color:#2e6bb5;transform:scaleX(0.9615);">3</div>
<div class="t" style="left:64.48px;top:370.85px;font-size:25.40px;color:#000;transform:scaleX(1.0103);">Monagas</div>
<div class="t" style="left:430.45px;top:371.19px;font-size:25.00px;font-weight:700;color:#2e6bb5;transform:scaleX(0.9615);">3</div>
<div class="t" style="left:65.57px;top:406.23px;font-size:25.40px;color:#000;transform:scaleX(0.9251);">Caracas</div>
<div class="t" style="left:430.45px;top:406.57px;font-size:25.00px;font-weight:700;color:#2e6bb5;transform:scaleX(0.9615);">2</div>
<div class="t" style="left:66.50px;top:441.61px;font-size:25.40px;color:#000;transform:scaleX(0.9381);">Yaracuy</div>
<div class="t" style="left:430.45px;top:441.95px;font-size:25.00px;font-weight:700;color:#2e6bb5;transform:scaleX(0.9615);">2</div>
<div class="t" style="left:64.35px;top:476.99px;font-size:25.40px;color:#000;transform:scaleX(1.0747);">Mérida</div>
<div class="t" style="left:430.45px;top:477.33px;font-size:25.00px;font-weight:700;color:#2e6bb5;transform:scaleX(0.9615);">2</div>
<div class="t" style="left:64.46px;top:512.37px;font-size:25.40px;color:#000;transform:scaleX(1.0187);">Delta Amacuro</div>
<div class="t" style="left:430.45px;top:512.71px;font-size:25.00px;font-weight:700;color:#2e6bb5;transform:scaleX(0.9615);">2</div>
<div class="t" style="left:66.50px;top:547.75px;font-size:25.40px;color:#000;transform:scaleX(1.0205);">Apure</div>
<div class="t" style="left:429.49px;top:548.09px;font-size:25.00px;font-weight:700;color:#2e6bb5;transform:scaleX(0.9615);">1</div>
<div class="t" style="left:64.51px;top:583.13px;font-size:25.40px;color:#000;transform:scaleX(0.9927);">Portuguesa</div>
<div class="t" style="left:429.49px;top:583.47px;font-size:25.00px;font-weight:700;color:#2e6bb5;transform:scaleX(0.9615);">1</div>
<div class="t" style="left:64.54px;top:618.51px;font-size:25.40px;color:#000;transform:scaleX(0.9788);">Nueva Esparta</div>
<div class="t" style="left:429.49px;top:618.85px;font-size:25.00px;font-weight:700;color:#2e6bb5;transform:scaleX(0.9615);">1</div>
<div class="t" style="left:64.59px;top:653.89px;font-size:25.40px;color:#000;transform:scaleX(0.9548);">La Guaira</div>
<div class="t" style="left:429.49px;top:654.23px;font-size:25.00px;font-weight:700;color:#2e6bb5;transform:scaleX(0.9615);">1</div>
<!-- dark frame -->
<div class="abs" style="left:0;top:0;width:1284px;height:8px;background:linear-gradient(180deg,#3c3b3e 0px,#232224 1.5px,#1b1a1b 3px,#1b1a1b 7px,#0d0f1a 8px)"></div>
<div class="abs" style="left:7px;top:8px;width:1270px;height:1px;background:rgba(255,255,255,0.22)"></div>
<div class="abs" style="left:0;top:0;width:7px;height:958px;background:#1c1a1b"></div>
<div class="abs" style="left:1277px;top:0;width:7px;height:958px;background:#1c1a1b"></div>
</body></html>
